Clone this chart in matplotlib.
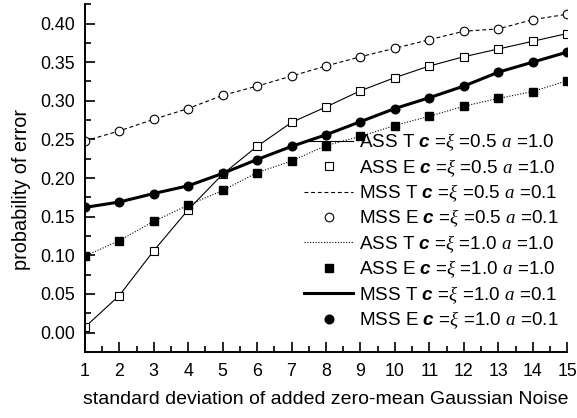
import matplotlib
matplotlib.use("Agg")
import matplotlib.pyplot as plt
from matplotlib.ticker import MultipleLocator

plt.rcParams['font.family'] = ['Liberation Sans', 'DejaVu Sans']
plt.rcParams['mathtext.fontset'] = 'custom'
plt.rcParams['mathtext.rm'] = 'Liberation Sans'
plt.rcParams['mathtext.it'] = 'Liberation Serif:italic'
plt.rcParams['mathtext.bfit'] = 'Liberation Sans:italic:bold'

sigma = list(range(1, 16))

# c = xi = 0.5
ass_e_05 = [0.007, 0.048, 0.106, 0.159, 0.205, 0.241, 0.272, 0.292, 0.313,
            0.330, 0.345, 0.357, 0.367, 0.377, 0.387]
ass_t_05 = ass_e_05
mss_e_05 = [0.248, 0.261, 0.276, 0.290, 0.307, 0.319, 0.332, 0.345, 0.357,
            0.368, 0.379, 0.390, 0.393, 0.405, 0.412]
mss_t_05 = mss_e_05

# c = xi = 1.0
ass_e_10 = [0.099, 0.119, 0.144, 0.165, 0.184, 0.207, 0.222, 0.242, 0.254,
            0.268, 0.280, 0.293, 0.303, 0.312, 0.326]
ass_t_10 = ass_e_10
mss_e_10 = [0.162, 0.169, 0.180, 0.190, 0.206, 0.224, 0.241, 0.256, 0.273,
            0.290, 0.304, 0.319, 0.337, 0.350, 0.363]
mss_t_10 = mss_e_10

lab = r"$\mathbfit{c}$ =$\xi$ ="

fig = plt.figure(figsize=(5.77, 4.18), dpi=100)
ax = fig.add_axes([0.147, 0.158, 0.836, 0.832])

ax.plot(sigma, ass_t_05, color='black', lw=0.8, label="ASS T " + lab + r"0.5 $a$ =1.0")
ax.plot(sigma, ass_e_05, ls='none', marker='s', ms=5.5, mfc='white', mec='black', mew=0.8,
        label="ASS E " + lab + r"0.5 $a$ =1.0")
ax.plot(sigma, mss_t_05, color='black', lw=0.8, ls=(0, (3.5, 2.5)),
        label="MSS T " + lab + r"0.5 $a$ =0.1")
ax.plot(sigma, mss_e_05, ls='none', marker='o', ms=6.2, mfc='white', mec='black', mew=0.8,
        label="MSS E " + lab + r"0.5 $a$ =0.1")
ax.plot(sigma, ass_t_10, color='black', lw=0.8, ls=(0, (1, 1.5)),
        label="ASS T " + lab + r"1.0 $a$ =1.0")
ax.plot(sigma, ass_e_10, ls='none', marker='s', ms=5.5, mfc='black', mec='black',
        label="ASS E " + lab + r"1.0 $a$ =1.0")
ax.plot(sigma, mss_t_10, color='black', lw=2.2, label="MSS T " + lab + r"1.0 $a$ =0.1")
ax.plot(sigma, mss_e_10, ls='none', marker='o', ms=6.2, mfc='black', mec='black',
        label="MSS E " + lab + r"1.0 $a$ =0.1")

ax.set_xlim(1, 15)
ax.set_ylim(-0.025, 0.425)
ax.set_xticks(sigma)
ax.xaxis.set_minor_locator(MultipleLocator(0.5))
ax.yaxis.set_major_locator(MultipleLocator(0.05))
ax.yaxis.set_minor_locator(MultipleLocator(0.025))
ax.yaxis.set_major_formatter(matplotlib.ticker.FormatStrFormatter('%.2f'))

for s in ['top', 'right']:
    ax.spines[s].set_visible(False)
for s in ['left', 'bottom']:
    ax.spines[s].set_linewidth(1.4)
ax.tick_params(which='both', direction='in', width=1.2, labelsize=12.8)
ax.tick_params(axis='y', pad=7)
ax.tick_params(axis='x', pad=8)
ax.tick_params(which='major', length=7)
ax.tick_params(which='minor', length=4)

ax.set_xlabel("standard deviation of added zero-mean Gaussian Noise", fontsize=14)
ax.xaxis.set_label_coords(0.5, -0.112)
ax.set_ylabel("probability of error", fontsize=14.3)
ax.yaxis.set_label_coords(-0.112, 0.466)

ax.legend(loc='lower right', bbox_to_anchor=(0.998, 0.038), frameon=False, fontsize=13.6,
          numpoints=1, handlelength=2.6, handletextpad=0.3, labelspacing=0.2,
          borderaxespad=0.0)

fig.savefig("out.png", dpi=100)
